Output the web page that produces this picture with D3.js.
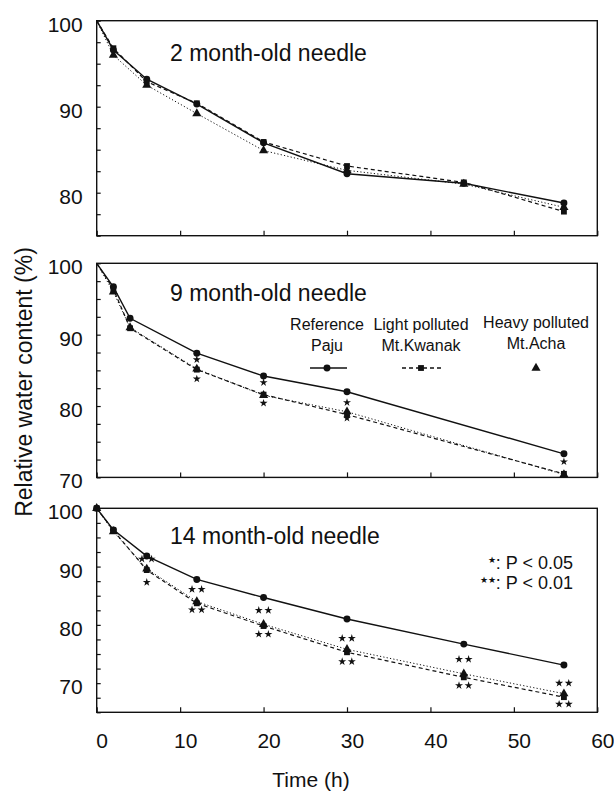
<!DOCTYPE html>
<html>
<head>
<meta charset="utf-8">
<script src="https://cdn.jsdelivr.net/npm/d3@7"></script>
<style>
  body { margin: 0; background: #fff; }
  text { font-family: "Liberation Sans", Arial, sans-serif; fill: #111; }
</style>
</head>
<body>
<div id="chart"></div>
<script>
var svgWidth = 614;
var svgHeight = 792;

// data
var xTicks = [0, 10, 20, 30, 40, 50, 60];

var time2m = [0, 2, 6, 12, 20, 30, 44, 56];
var ref2m = [100, 96.6, 93.2, 90.3, 85.8, 82.2, 81.1, 78.8];
var light2m = [100, 96.8, 92.9, 90.4, 85.9, 83.1, 81.2, 77.8];
var heavy2m = [100, 96.0, 92.5, 89.2, 84.9, 82.6, 81.0, 78.3];

var time9m = [0, 2, 4, 12, 20, 30, 56];
var ref9m = [100, 96.7, 92.3, 87.4, 84.2, 82.0, 73.3];
var light9m = [100, 96.4, 90.9, 85.1, 81.6, 78.8, 70.5];
var heavy9m = [100, 96.0, 91.0, 85.2, 81.5, 79.2, 70.4];

var time14m = [0, 2, 6, 12, 20, 30, 44, 56];
var ref14m = [100, 96.3, 91.8, 87.8, 84.7, 81.0, 76.7, 73.1];
var light14m = [100, 96.2, 89.4, 83.7, 79.8, 75.3, 71.0, 67.6];
var heavy14m = [100, 96.0, 89.6, 84.0, 80.1, 75.8, 71.6, 68.2];

// significance stars: [time, value, number of stars]
var stars9m = [[12, 86.5, 1], [12, 83.8, 1], [20, 83.3, 1], [20, 80.4, 1],
  [30, 80.5, 1], [30, 78.3, 1], [56, 72.2, 1]];
var stars14m = [[6, 91.3, 2], [6, 87.3, 1], [12, 86.1, 2], [12, 82.6, 2],
  [20, 82.5, 2], [20, 78.4, 2], [30, 77.7, 2], [30, 73.7, 2],
  [44, 74.1, 2], [44, 69.6, 2], [56, 70.0, 2], [56, 66.4, 2]];

var panels = [
  { title: "2 month-old needle", time: time2m, ref: ref2m, light: light2m, heavy: heavy2m,
    stars: [], domain: [75, 100], labels: [80, 90, 100], top: 20.7, bottom: 235.7, titleY: 61, zeroMark: false },
  { title: "9 month-old needle", time: time9m, ref: ref9m, light: light9m, heavy: heavy9m,
    stars: stars9m, domain: [70, 100], labels: [70, 80, 90, 100], top: 263.3, bottom: 477.4, titleY: 301, zeroMark: false },
  { title: "14 month-old needle", time: time14m, ref: ref14m, light: light14m, heavy: heavy14m,
    stars: stars14m, domain: [65, 100], labels: [70, 80, 90, 100], top: 508.3, bottom: 712.3, titleY: 544, zeroMark: true }
];

var left = 96.7, right = 597.3;

var svg = d3.select("#chart").append("svg")
  .attr("width", svgWidth)
  .attr("height", svgHeight);

var x = d3.scaleLinear().domain([0, 60]).range([left, right]);

var starPath = d3.symbol().type(d3.symbolStar).size(20)();
var circlePath = d3.symbol().type(d3.symbolCircle).size(38)();
var squarePath = d3.symbol().type(d3.symbolSquare).size(34)();
var trianglePath = d3.symbol().type(d3.symbolTriangle).size(36)();

panels.forEach(function(p, i) {
  var y = d3.scaleLinear().domain(p.domain).range([p.bottom, p.top]);
  var g = svg.append("g");

  // minor + major ticks, inward
  var yTickVals = d3.range(p.domain[0], 100.01, 2.5);
  g.append("g")
    .attr("transform", `translate(${left},0)`)
    .call(d3.axisLeft(y).tickValues(yTickVals).tickSize(-4).tickPadding(14)
      .tickFormat(d => p.labels.indexOf(d) >= 0 ? d : ""))
    .call(a => a.select(".domain").remove())
    .call(a => a.selectAll("line").attr("stroke", "#111").attr("stroke-width", 1.2))
    .call(a => a.selectAll("text").attr("font-size", 21).attr("dy", "0.5em").attr("fill", "#111"));

  g.append("g")
    .attr("transform", `translate(0,${p.bottom})`)
    .call(d3.axisBottom(x).tickValues(xTicks).tickSize(-5).tickPadding(12)
      .tickFormat(i === 2 ? d3.format("d") : ""))
    .call(a => a.select(".domain").remove())
    .call(a => a.selectAll("line").attr("stroke", "#111").attr("stroke-width", 1.2))
    .call(a => a.selectAll("text").attr("font-size", 21).attr("dx", 5).attr("dy", "1.15em").attr("fill", "#111"));

  g.append("rect")
    .attr("x", left).attr("y", p.top)
    .attr("width", right - left).attr("height", p.bottom - p.top)
    .attr("fill", "none").attr("stroke", "#111").attr("stroke-width", 1.4);

  g.append("text")
    .attr("x", 170).attr("y", p.titleY)
    .attr("font-size", 23)
    .text(p.title);

  var line = d3.line().x(d => x(d[0])).y(d => y(d[1]));
  var series = [
    { vals: p.heavy, dash: "1.2,2.2", width: 1, mark: trianglePath },
    { vals: p.light, dash: "4,3", width: 1.2, mark: squarePath },
    { vals: p.ref, dash: null, width: 1.4, mark: circlePath }
  ];

  series.forEach(function(s) {
    var pts = p.time.map((t, k) => [t, s.vals[k]]);
    g.append("path")
      .datum(pts)
      .attr("d", line)
      .attr("fill", "none")
      .attr("stroke", "#111")
      .attr("stroke-width", s.width)
      .attr("stroke-dasharray", s.dash);
    g.selectAll(null)
      .data(pts.filter(d => p.zeroMark || d[0] > 0))
      .enter().append("path")
      .attr("d", s.mark)
      .attr("transform", d => `translate(${x(d[0])},${y(d[1])})`)
      .attr("fill", "#111");
  });

  // significance stars
  var starPts = [];
  p.stars.forEach(function(s) {
    if (s[2] === 1) starPts.push([x(s[0]), y(s[1])]);
    else { starPts.push([x(s[0]) - 4.8, y(s[1])]); starPts.push([x(s[0]) + 4.8, y(s[1])]); }
  });
  g.selectAll(null)
    .data(starPts)
    .enter().append("path")
    .attr("d", starPath)
    .attr("transform", d => `translate(${d[0]},${d[1]})`)
    .attr("fill", "#111");
});

// legend in 9 month panel
var legend = svg.append("g");
var legendItems = [
  { l1: "Reference", l2: "Paju", cx: 327, x1: 310, x2: 347, dash: null, mark: circlePath },
  { l1: "Light polluted", l2: "Mt.Kwanak", cx: 421, x1: 402, x2: 442, dash: "4,3", mark: squarePath },
  { l1: "Heavy polluted", l2: "Mt.Acha", cx: 536, x1: null, x2: null, dash: null, mark: trianglePath }
];
legendItems.forEach(function(it, k) {
  legend.append("text").attr("x", it.cx).attr("y", k === 2 ? 328 : 330)
    .attr("text-anchor", "middle").attr("font-size", 16).text(it.l1);
  legend.append("text").attr("x", it.cx).attr("y", k === 2 ? 349 : 351)
    .attr("text-anchor", "middle").attr("font-size", 16).text(it.l2);
  if (it.x1 !== null) {
    legend.append("line").attr("x1", it.x1).attr("x2", it.x2)
      .attr("y1", 368).attr("y2", 368)
      .attr("stroke", "#111").attr("stroke-width", 1.3)
      .attr("stroke-dasharray", it.dash);
  }
  legend.append("path").attr("d", it.mark)
    .attr("transform", `translate(${it.cx},368)`).attr("fill", "#111");
});

// P value key in 14 month panel
var key = [["★", "P < 0.05", 569], ["★★", "P < 0.01", 589]];
key.forEach(function(k) {
  var t = svg.append("text").attr("x", 573).attr("y", k[2])
    .attr("text-anchor", "end").attr("font-size", 18);
  t.append("tspan").attr("font-size", 9).attr("dy", -6).text(k[0]);
  t.append("tspan").attr("dy", 6).text(": " + k[1]);
});

// axis titles
svg.append("text")
  .attr("transform", "translate(32,382) rotate(-90)")
  .attr("text-anchor", "middle")
  .attr("font-size", 23)
  .text("Relative water content (%)");

svg.append("text")
  .attr("x", 311).attr("y", 787)
  .attr("text-anchor", "middle")
  .attr("font-size", 21)
  .text("Time (h)");
</script>
</body>
</html>
